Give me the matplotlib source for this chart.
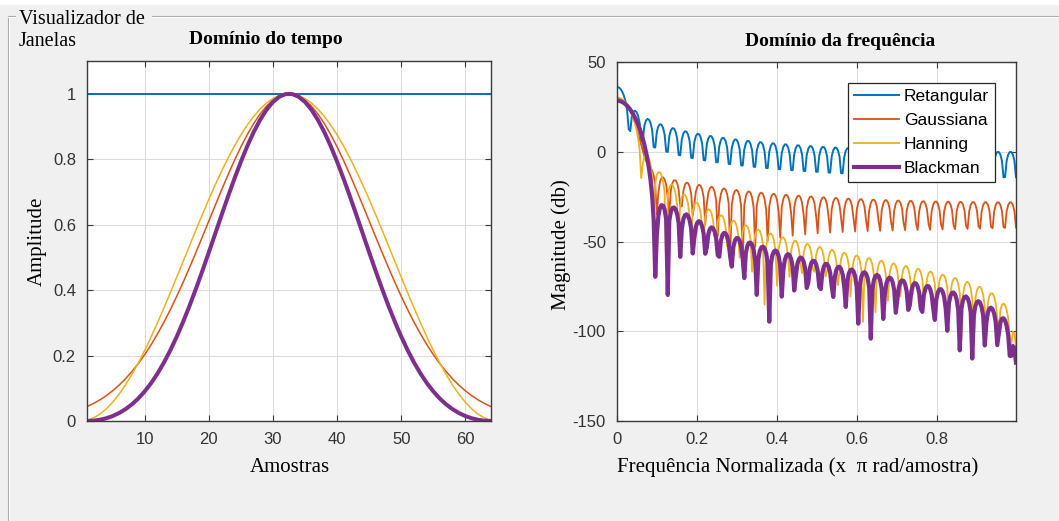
import numpy as np
import matplotlib
matplotlib.use('Agg')
import matplotlib.pyplot as plt
from matplotlib.lines import Line2D
from matplotlib.patches import Rectangle

## Dados ######################################################################

n_amostras = 64                 # comprimento das janelas
alpha_gauss = 2.5               # parametro da janela gaussiana
n_freq = 256                    # pontos de frequencia (meia banda)
nomes = ['Retangular', 'Gaussiana', 'Hanning', 'Blackman']
ticks_tempo_x = [10, 20, 30, 40, 50, 60]
ticks_tempo_y = [0, 0.2, 0.4, 0.6, 0.8, 1]
ticks_freq_x = [0, 0.2, 0.4, 0.6, 0.8]
ticks_freq_y = [-150, -100, -50, 0, 50]

cores = ['#0072BD', '#D95319', '#EDB120', '#7E2F8E']
esp_tempo = [1.4, 1.1, 1.1, 2.9]
esp_freq = [1.4, 1.3, 1.3, 3.0]

## Janelas ####################################################################

N = n_amostras
k = np.arange(N) - (N - 1) / 2.0
janelas = [
    np.ones(N),
    np.exp(-0.5 * (alpha_gauss * k / ((N - 1) / 2.0)) ** 2),
    np.hanning(N + 2)[1:-1],          # hanning() do MATLAB, sem zeros nas pontas
    np.blackman(N),
]
amostras = np.arange(1, N + 1)

# resposta em frequencia (DTFT de cada janela)
f = (np.arange(n_freq) + 0.5) / n_freq
E = np.exp(-1j * np.pi * np.outer(f, np.arange(N)))
mags = [20 * np.log10(np.abs(E @ w)) for w in janelas]

## Figura #####################################################################

W, H = 1059, 521
fig = plt.figure(figsize=(W / 100, H / 100), dpi=100, facecolor='#f0f0f0')
fig.patches.append(Rectangle((0, 1 - 5 / H), 1, 5 / H, transform=fig.transFigure,
                             facecolor='white', edgecolor='none', zorder=0))

def px(x, y):
    return x / W, 1 - y / H

# moldura do painel
for dx, cor in [(0, '#a8a8a8'), (1, '#ffffff')]:
    fig.add_artist(Line2D([px(8 + dx, 0)[0], px(8 + dx, 0)[0]], [px(0, 16 + dx)[1], 0],
                          color=cor, lw=0.8, transform=fig.transFigure))
    fig.add_artist(Line2D([px(8, 0)[0], px(15, 0)[0]], [px(0, 16 + dx)[1]] * 2,
                          color=cor, lw=0.8, transform=fig.transFigure))
    fig.add_artist(Line2D([px(152, 0)[0], 1], [px(0, 16 + dx)[1]] * 2,
                          color=cor, lw=0.8, transform=fig.transFigure))

serif = 'Liberation Serif'
sans = 'Liberation Sans'

fig.text(*px(19, 19), 'Visualizador de', fontsize=14.5, family=serif, va='center', ha='left')
fig.text(*px(19, 42), 'Janelas', fontsize=14.5, family=serif, va='center', ha='left')

fig.text(*px(266, 40), 'Domínio do tempo', fontsize=14, family=serif,
         weight='bold', ha='center', va='center')
fig.text(*px(840, 41), 'Domínio da frequência', fontsize=14, family=serif,
         weight='bold', ha='center', va='center')

ax1 = fig.add_axes([87 / W, 1 - 421 / H, 404 / W, 360 / H])
ax2 = fig.add_axes([617 / W, 1 - 421 / H, 399 / W, 359 / H])

for ax in (ax1, ax2):
    ax.set_facecolor('white')
    ax.grid(True, color='#dcdcdc', lw=0.8)
    ax.set_axisbelow(True)
    for s in ax.spines.values():
        s.set_color('#3a3a3a')
        s.set_linewidth(1.0)
    ax.tick_params(direction='in', length=4, width=0.8, color='#3a3a3a',
                   top=True, right=True, labelsize=12, labelcolor='#333333', pad=8)

for w, c, lw in zip(janelas, cores, esp_tempo):
    ax1.plot(amostras, w, color=c, lw=lw)
ax1.set_xlim(1, N)
ax1.set_ylim(0, 1.1)
ax1.set_xticks(ticks_tempo_x)
ax1.set_yticks(ticks_tempo_y)
ax1.set_yticklabels(['0', '0.2', '0.4', '0.6', '0.8', '1'], family=sans)
ax1.set_xticklabels([str(t) for t in ticks_tempo_x], family=sans)

for m, c, lw, nome in zip(mags, cores, esp_freq, nomes):
    ax2.plot(f, m, color=c, lw=lw, label=nome)
ax2.set_xlim(0, f[-1])
ax2.set_ylim(-150, 50)
ax2.set_xticks(ticks_freq_x)
ax2.set_yticks(ticks_freq_y)
ax2.set_xticklabels(['0', '0.2', '0.4', '0.6', '0.8'], family=sans)
ax2.set_yticklabels([str(t) for t in ticks_freq_y], family=sans)

leg = ax2.legend(loc='upper right', bbox_to_anchor=(0.947, 0.9415), borderaxespad=0,
                 fancybox=False, framealpha=1, edgecolor='#262626',
                 prop={'family': sans, 'size': 12.5}, handlelength=2.6,
                 handletextpad=0.25, labelspacing=0.5, borderpad=0.35)
leg.get_frame().set_linewidth(0.9)

fig.text(*px(290, 468), 'Amostras', fontsize=15, family=serif, ha='center', va='center')
fig.text(*px(798, 467), 'Frequência Normalizada (x  π rad/amostra)', fontsize=15,
         family=serif, ha='center', va='center')
fig.text(*px(37, 241), 'Amplitude', fontsize=15, family=serif, ha='center',
         va='center', rotation=90)
fig.text(*px(561, 245), 'Magnitude (db)', fontsize=15, family=serif, ha='center',
         va='center', rotation=90)

fig.savefig('out.png', dpi=100, facecolor=fig.get_facecolor())
